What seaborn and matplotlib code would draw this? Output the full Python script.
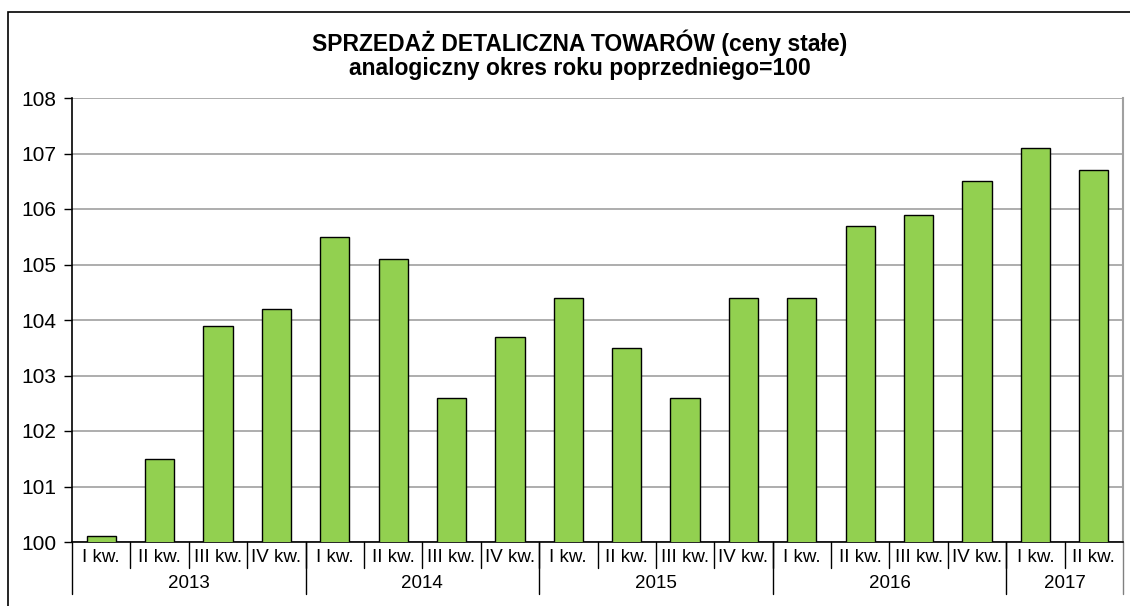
import pandas as pd
import seaborn as sns
import matplotlib.pyplot as plt
from matplotlib.patches import Rectangle

quarters = ['I kw.', 'II kw.', 'III kw.', 'IV kw.'] * 4 + ['I kw.', 'II kw.']
years = ['2013', '2014', '2015', '2016', '2017']
year_sizes = [4, 4, 4, 4, 2]
values = [100.1, 101.5, 103.9, 104.2, 105.5, 105.1, 102.6, 103.7, 104.4,
          103.5, 102.6, 104.4, 104.4, 105.7, 105.9, 106.5, 107.1, 106.7]

df = pd.DataFrame({'okres': [str(i) for i in range(len(values))], 'wartosc': values})

sns.set_style('white')
plt.rcParams['font.family'] = ['Liberation Sans', 'DejaVu Sans']
plt.rcParams['text.color'] = 'black'
plt.rcParams['ytick.color'] = 'black'
plt.rcParams['ytick.labelcolor'] = 'black'

fig = plt.figure(figsize=(11.3, 6.06), dpi=100)
ax = fig.add_axes([72 / 1130, 1 - 542 / 606, (1123 - 72) / 1130, 444 / 606])

sns.barplot(data=df, x='okres', y='wartosc', color='#92D050', saturation=1,
            edgecolor='black', linewidth=1, width=0.5, ax=ax, zorder=3)

ax.set_ylim(100, 108)
ax.set_xlim(-0.5, len(values) - 0.5)
ax.set_yticks(range(100, 109))
ax.yaxis.grid(True, color='#a0a0a0', linewidth=1.2, zorder=0)
ax.set_axisbelow(True)
ax.tick_params(axis='y', labelsize=15, length=6, width=1, color='black', left=True, pad=5)
ax.set_xticks([])
ax.set_xlabel('')
ax.set_ylabel('')
for s in ['left', 'bottom']:
    ax.spines[s].set_color('black')
    ax.spines[s].set_linewidth(1.2)
ax.spines['right'].set_color('#a0a0a0')
ax.spines['right'].set_linewidth(1.5)
ax.spines['top'].set_visible(False)

# dwa poziomy etykiet osi X
tr = ax.get_xaxis_transform()
h = 444.0
for i, q in enumerate(quarters):
    ax.text(i, -16 / h, q, transform=tr, ha='center', va='center', fontsize=13.5)
    if i > 0:
        ax.plot([i - 0.5, i - 0.5], [0, -26 / h], transform=tr, color='black',
                lw=1, clip_on=False)
start = 0
for y, n in zip(years, year_sizes):
    ax.text(start + (n - 1) / 2, -41 / h, y, transform=tr, ha='center', va='center',
            fontsize=13.5)
    ax.plot([start - 0.5, start - 0.5], [0, -52 / h], transform=tr, color='black',
            lw=1, clip_on=False)
    start += n
ax.plot([start - 0.5, start - 0.5], [0, -52 / h], transform=tr, color='#808080',
        lw=1, clip_on=False)

fig.text(580 / 1130, 1 - 55 / 606,
         'SPRZEDAŻ DETALICZNA TOWARÓW (ceny stałe)\nanalogiczny okres roku poprzedniego=100',
         ha='center', va='center', fontsize=16.5, fontweight='bold', linespacing=1.05)

fig.patches.append(Rectangle((8 / 1130, -0.1), 2, 1.1 - 12 / 606, transform=fig.transFigure,
                             fill=False, edgecolor='black', linewidth=1.2))

fig.savefig('out.png', dpi=100)
